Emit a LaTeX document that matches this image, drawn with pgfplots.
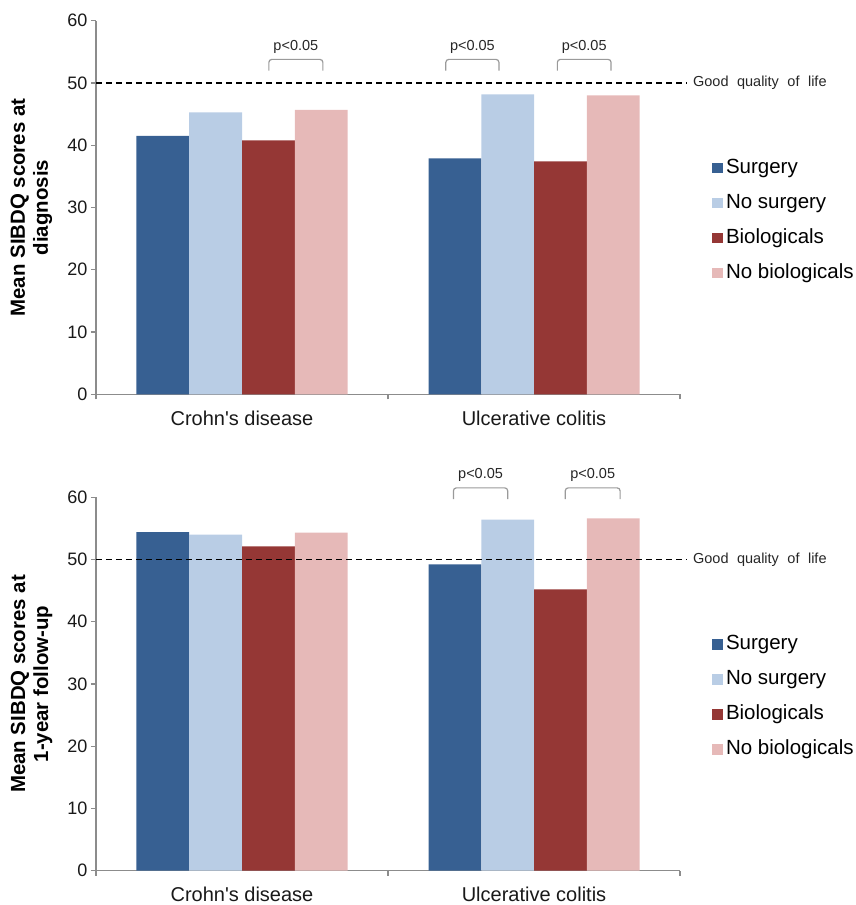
\documentclass[border=0pt]{standalone}
\usepackage{fontspec}
\setmainfont{Liberation Sans}
\usepackage{pgfplots}
\pgfplotsset{compat=1.18}
\definecolor{cSurg}{HTML}{376092}
\definecolor{cNoSurg}{HTML}{B9CDE5}
\definecolor{cBio}{HTML}{953735}
\definecolor{cNoBio}{HTML}{E6B9B8}
\definecolor{axgray}{HTML}{8C8C8C}
\definecolor{brgray}{HTML}{9A9A9A}

\tikzset{
 ptext/.style={font=\fontsize{14.5}{17}\selectfont, text=black!85},
 brk/.style={brgray, line width=1.2pt, rounded corners=3pt},
}
\pgfplotsset{
 mystyle/.style={
  scale only axis, width=584pt, height=373.5pt,
  xmin=-0.5, xmax=1.5, ymin=0, ymax=60,
  ybar=0pt, bar width=52.75pt,
  axis x line*=bottom, axis y line*=left,
  axis line style={axgray, line width=1.2pt},
  tick align=outside,
  major tick length=5pt,
  ytick={0,10,...,60},
  tick style={axgray, line width=1.2pt},
  xtick={-0.5,0.5,1.5}, xticklabels={},
  extra x ticks={0,1},
  extra x tick labels={Crohn\textquotesingle s disease, Ulcerative colitis},
  extra x tick style={tick style={draw=none}, tick label style={font=\fontsize{20}{24}\selectfont, text=black!90, yshift=-8pt}},
  y tick label style={font=\fontsize{18}{22}\selectfont, text=black!90},
  /pgf/number format/assume math mode=true,
  clip=false,
  legend cell align=left,
  legend style={at={(rel axis cs:1.055,0.465)}, anchor=west, draw=none, fill=none, inner sep=0pt,
    font=\fontsize{20.5}{24}\selectfont, row sep=15.5pt,
    nodes={inner xsep=3pt, inner ysep=0pt, text height=15pt, text depth=4.5pt}},
  legend image code/.code={\fill[##1, draw=none] (0pt,-5.35pt) rectangle (10.7pt,5.35pt);},
 },
}

\begin{document}
\begin{tikzpicture}
\path[use as bounding box] (-96pt,-510.7pt) rectangle (759pt,394.3pt);

% ---------- Top: at diagnosis ----------
\begin{axis}[mystyle, at={(0pt,0pt)}, anchor=south west]
\addplot[fill=cSurg, draw=none] coordinates {(0,41.5) (1,37.9)};
\addplot[fill=cNoSurg, draw=none] coordinates {(0,45.3) (1,48.2)};
\addplot[fill=cBio, draw=none] coordinates {(0,40.8) (1,37.4)};
\addplot[fill=cNoBio, draw=none] coordinates {(0,45.7) (1,48.0)};
\legend{Surgery, No surgery, Biologicals, No biologicals}
\draw[black, line width=1.2pt, dash pattern=on 6pt off 4pt] (axis cs:-0.5,50) -- ([xshift=7pt]axis cs:1.5,50)
  node[right, inner sep=5.5pt, ptext] {Good\hspace{8.5pt}quality\hspace{8.5pt}of\hspace{8.5pt}life};
\draw[brk] (axis cs:0.092,52) |- (axis cs:0.277,53.8) -- (axis cs:0.277,52);
\node[ptext] at (axis cs:0.1845,55.8) {p<0.05};
\draw[brk] (axis cs:0.698,52) |- (axis cs:0.880,53.8) -- (axis cs:0.880,52);
\node[ptext] at (axis cs:0.789,55.8) {p<0.05};
\draw[brk] (axis cs:1.080,52) |- (axis cs:1.264,53.8) -- (axis cs:1.264,52);
\node[ptext] at (axis cs:1.172,55.8) {p<0.05};
\node[rotate=90, align=center, font=\bfseries\fontsize{20.4}{23}\selectfont]
  at ([xshift=-64.5pt]axis description cs:0,0.5) {Mean SIBDQ scores at\\diagnosis};
\end{axis}

% ---------- Bottom: 1-year follow-up ----------
\begin{axis}[mystyle, at={(0pt,-476.4pt)}, anchor=south west]
\addplot[fill=cSurg, draw=none] coordinates {(0,54.4) (1,49.2)};
\addplot[fill=cNoSurg, draw=none] coordinates {(0,54.0) (1,56.4)};
\addplot[fill=cBio, draw=none] coordinates {(0,52.1) (1,45.2)};
\addplot[fill=cNoBio, draw=none] coordinates {(0,54.3) (1,56.6)};
\legend{Surgery, No surgery, Biologicals, No biologicals}
\draw[black, line width=1.2pt, dash pattern=on 6pt off 4pt] (axis cs:-0.5,50) -- ([xshift=7pt]axis cs:1.5,50)
  node[right, inner sep=5.5pt, ptext] {Good\hspace{8.5pt}quality\hspace{8.5pt}of\hspace{8.5pt}life};
\draw[brk] (axis cs:0.724,59.7) |- (axis cs:0.910,61.5) -- (axis cs:0.910,59.7);
\node[ptext] at (axis cs:0.817,63.5) {p<0.05};
\draw[brk] (axis cs:1.107,59.7) |- (axis cs:1.295,61.5) -- (axis cs:1.295,59.7);
\node[ptext] at (axis cs:1.201,63.5) {p<0.05};
\node[rotate=90, align=center, font=\bfseries\fontsize{20.4}{23}\selectfont]
  at ([xshift=-64.5pt]axis description cs:0,0.5) {Mean SIBDQ scores at\\1-year follow-up};
\end{axis}
\end{tikzpicture}
\end{document}
